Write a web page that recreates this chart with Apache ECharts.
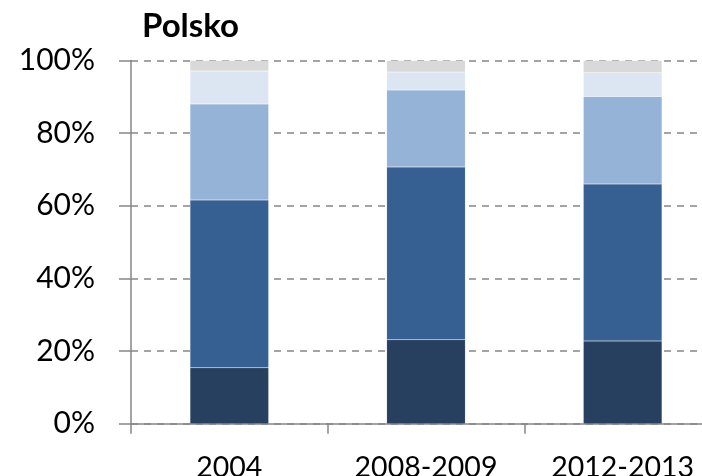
<!DOCTYPE html>
<html>
<head>
<meta charset="utf-8">
<script src="https://cdn.jsdelivr.net/npm/echarts@6/dist/echarts.min.js"></script>
<style>
html,body{margin:0;padding:0;background:#fff;}
#chart{width:702px;height:476px;}
</style>
</head>
<body>
<div id="chart"></div>
<script>
// kategorie a hodnoty (%)
var categories = ['2004', '2008-2009', '2012-2013'];
var s1 = [15.4, 23.1, 22.8];
var s2 = [46.2, 47.6, 43.2];
var s3 = [26.4, 21.2, 24.1];
var s4 = [9.1, 4.9, 6.5];
var s5 = [2.9, 3.2, 3.4];
var yTicks = [0, 20, 40, 60, 80, 100];

var colors = ['#27405f', '#376092', '#95b3d7', '#dce6f2', '#d9d9d9'];
var font = 'Lato, "Open Sans", sans-serif';

function makeSeries(data, ind){
	return {
		type: 'bar',
		stack: 'total',
		data: data,
		barWidth: '40%',
		itemStyle: {
			color: colors[ind],
			borderColor: 'rgba(255,255,255,0.2)',
			borderWidth: 0.5
		},
		silent: true
	};
}

var myChart = echarts.init(document.getElementById('chart'));
myChart.setOption({
	animation: false,
	title: {
		text: 'Polsko',
		left: 137,
		top: 5,
		textStyle: {
			fontFamily: font,
			fontWeight: 'bold',
			fontSize: 33,
			color: '#000'
		}
	},
	grid: {
		left: 131,
		width: 590,   // plocha přesahuje pravý okraj jako v originálu
		top: 60.5,
		height: 363.2,
		containLabel: false,
		outerBoundsMode: 'none'
	},
	xAxis: {
		type: 'category',
		data: categories,
		axisLine: {show: true, lineStyle: {color: '#868686', width: 1.5}},
		axisTick: {show: true, length: 10, lineStyle: {color: '#868686', width: 1.5}},
		axisLabel: {
			fontFamily: font,
			fontSize: 28.5,
			color: '#000',
			margin: 30
		}
	},
	yAxis: {
		type: 'value',
		min: 0,
		max: 100,
		interval: 20,
		axisLine: {show: true, lineStyle: {color: '#868686', width: 1.5}},
		axisTick: {show: true, length: 12, lineStyle: {color: '#868686', width: 1.5}},
		splitLine: {
			show: true,
			lineStyle: {color: '#868686', type: [7, 6], width: 1.5}
		},
		axisLabel: {
			fontFamily: font,
			fontSize: 30,
			color: '#000',
			margin: 36,
			formatter: function(v){
				return yTicks.indexOf(v) > -1 ? v + '%' : '';
			}
		}
	},
	series: [s1, s2, s3, s4, s5].map(makeSeries)
});
</script>
</body>
</html>
